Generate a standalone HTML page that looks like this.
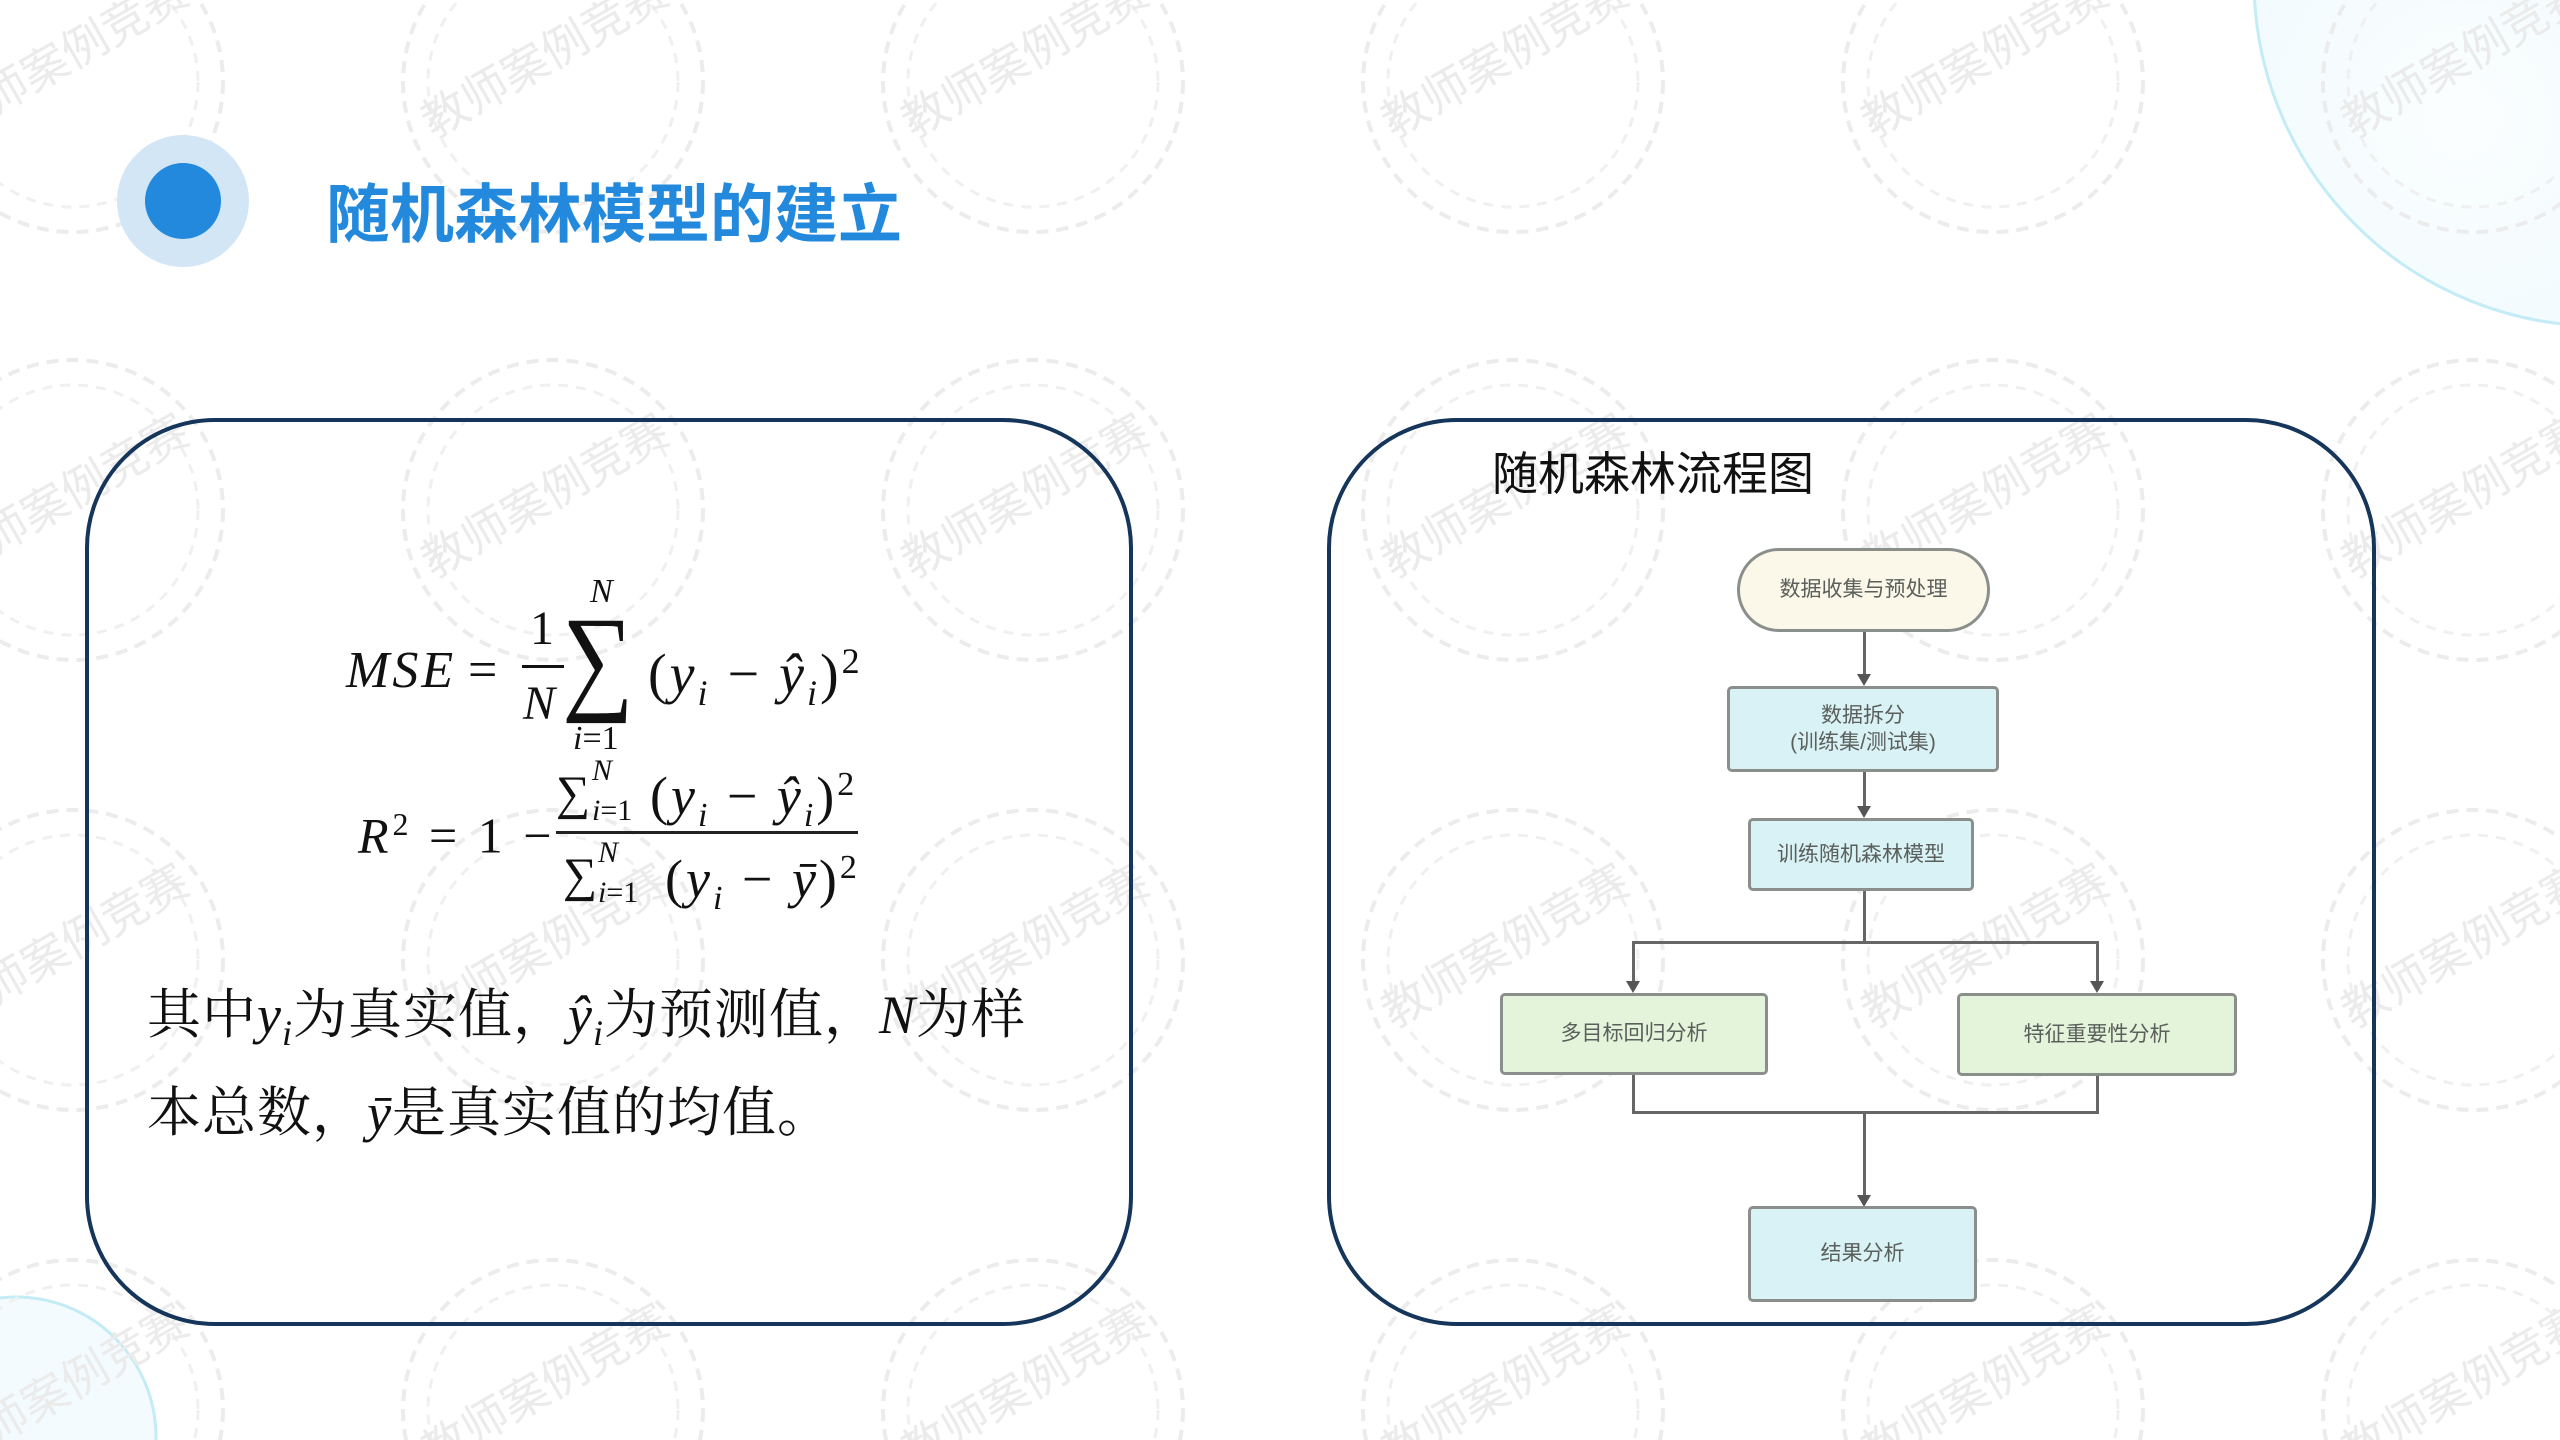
<!DOCTYPE html>
<html><head><meta charset="utf-8"><style>
*{margin:0;padding:0;box-sizing:border-box}
html,body{width:2560px;height:1440px;overflow:hidden}
body{background:#fff;position:relative;font-family:"Liberation Sans","Noto Sans CJK SC",sans-serif}
svg{display:block}
.a{position:absolute}
.m{font-family:"Liberation Serif","DejaVu Serif",serif;color:#111;position:absolute;white-space:nowrap;line-height:1}
.i{font-style:italic}
.panel{position:absolute;border:4px solid #15355a;border-radius:130px;background:transparent}
.node{position:absolute;border:3px solid #8a8f8c;border-radius:5px;display:flex;align-items:center;justify-content:center;text-align:center;font-size:21px;color:#5a5f5c;line-height:1.3;font-family:"Liberation Sans","Noto Sans CJK SC",sans-serif}
.ln{position:absolute;background:#666}
.ar{position:absolute;width:0;height:0;border-left:7px solid transparent;border-right:7px solid transparent;border-top:12px solid #555}
.t{font-family:"Liberation Serif","Noto Serif CJK SC",serif;font-size:54px;letter-spacing:1px;color:#111;position:absolute;white-space:nowrap;line-height:1}
.w{letter-spacing:3px}
</style></head><body>
<svg class="a" style="left:0;top:0" width="2560" height="1440">
<defs>
<radialGradient id="g" cx="0.3" cy="0.7" r="0.8"><stop offset="0" stop-color="#fbfeff"/><stop offset="1" stop-color="#e6f6fb"/></radialGradient>
</defs>
<circle cx="2600" cy="-20" r="346" fill="url(#g)" stroke="#c4ecf6" stroke-width="3"/>
<circle cx="16" cy="1437" r="140" fill="#f3fbfe" stroke="#c4ecf6" stroke-width="3"/>
<g fill="none" stroke="#ececec" stroke-width="4" stroke-dasharray="12 8">
<circle cx="73" cy="82" r="150"/><circle cx="553" cy="82" r="150"/><circle cx="1033" cy="82" r="150"/><circle cx="1513" cy="82" r="150"/><circle cx="1993" cy="82" r="150"/><circle cx="2473" cy="82" r="150"/>
<circle cx="73" cy="510" r="150"/><circle cx="553" cy="510" r="150"/><circle cx="1033" cy="510" r="150"/><circle cx="1513" cy="510" r="150"/><circle cx="1993" cy="510" r="150"/><circle cx="2473" cy="510" r="150"/>
<circle cx="73" cy="960" r="150"/><circle cx="553" cy="960" r="150"/><circle cx="1033" cy="960" r="150"/><circle cx="1513" cy="960" r="150"/><circle cx="1993" cy="960" r="150"/><circle cx="2473" cy="960" r="150"/>
<circle cx="73" cy="1410" r="150"/><circle cx="553" cy="1410" r="150"/><circle cx="1033" cy="1410" r="150"/><circle cx="1513" cy="1410" r="150"/><circle cx="1993" cy="1410" r="150"/><circle cx="2473" cy="1410" r="150"/>
</g>
<g fill="none" stroke="#f0f0f0" stroke-width="3" stroke-dasharray="10 8">
<circle cx="73" cy="82" r="125"/><circle cx="553" cy="82" r="125"/><circle cx="1033" cy="82" r="125"/><circle cx="1513" cy="82" r="125"/><circle cx="1993" cy="82" r="125"/><circle cx="2473" cy="82" r="125"/>
<circle cx="73" cy="510" r="125"/><circle cx="553" cy="510" r="125"/><circle cx="1033" cy="510" r="125"/><circle cx="1513" cy="510" r="125"/><circle cx="1993" cy="510" r="125"/><circle cx="2473" cy="510" r="125"/>
<circle cx="73" cy="960" r="125"/><circle cx="553" cy="960" r="125"/><circle cx="1033" cy="960" r="125"/><circle cx="1513" cy="960" r="125"/><circle cx="1993" cy="960" r="125"/><circle cx="2473" cy="960" r="125"/>
<circle cx="73" cy="1410" r="125"/><circle cx="553" cy="1410" r="125"/><circle cx="1033" cy="1410" r="125"/><circle cx="1513" cy="1410" r="125"/><circle cx="1993" cy="1410" r="125"/><circle cx="2473" cy="1410" r="125"/>
</g>
<g fill="#ebebeb" font-size="46" font-family="Noto Sans CJK SC,sans-serif" text-anchor="middle">
<text transform="translate(73,70) rotate(-30)">教师案例竞赛</text><text transform="translate(553,70) rotate(-30)">教师案例竞赛</text><text transform="translate(1033,70) rotate(-30)">教师案例竞赛</text><text transform="translate(1513,70) rotate(-30)">教师案例竞赛</text><text transform="translate(1993,70) rotate(-30)">教师案例竞赛</text><text transform="translate(2473,70) rotate(-30)">教师案例竞赛</text>
<text transform="translate(73,510) rotate(-30)">教师案例竞赛</text><text transform="translate(553,510) rotate(-30)">教师案例竞赛</text><text transform="translate(1033,510) rotate(-30)">教师案例竞赛</text><text transform="translate(1513,510) rotate(-30)">教师案例竞赛</text><text transform="translate(1993,510) rotate(-30)">教师案例竞赛</text><text transform="translate(2473,510) rotate(-30)">教师案例竞赛</text>
<text transform="translate(73,960) rotate(-30)">教师案例竞赛</text><text transform="translate(553,960) rotate(-30)">教师案例竞赛</text><text transform="translate(1033,960) rotate(-30)">教师案例竞赛</text><text transform="translate(1513,960) rotate(-30)">教师案例竞赛</text><text transform="translate(1993,960) rotate(-30)">教师案例竞赛</text><text transform="translate(2473,960) rotate(-30)">教师案例竞赛</text>
<text transform="translate(73,1400) rotate(-30)">教师案例竞赛</text><text transform="translate(553,1400) rotate(-30)">教师案例竞赛</text><text transform="translate(1033,1400) rotate(-30)">教师案例竞赛</text><text transform="translate(1513,1400) rotate(-30)">教师案例竞赛</text><text transform="translate(1993,1400) rotate(-30)">教师案例竞赛</text><text transform="translate(2473,1400) rotate(-30)">教师案例竞赛</text>
</g>
<circle cx="183" cy="201" r="66" fill="#d3e6f6"/>
<circle cx="183" cy="201" r="38" fill="#2289dc"/>
</svg>
<div class="a" style="left:326px;top:170px;font-size:64px;font-weight:bold;color:#2389dc;font-family:'Noto Sans CJK SC',sans-serif;line-height:80px;white-space:nowrap">随机森林模型的建立</div>

<div class="panel" style="left:85px;top:418px;width:1048px;height:908px"></div>
<div class="panel" style="left:1327px;top:418px;width:1049px;height:908px"></div>

<!-- MSE -->
<div class="m i" style="left:346px;top:645px;font-size:52px;letter-spacing:3px">MSE</div>
<div class="m" style="left:468px;top:645px;font-size:52px">=</div>
<div class="m" style="left:530px;top:605px;font-size:48px">1</div>
<div class="a" style="left:522px;top:665px;width:42px;height:3px;background:#111"></div>
<div class="m i" style="left:523px;top:680px;font-size:48px">N</div>
<div class="m" style="left:562px;top:600px;font-size:118px;transform:scaleX(0.85);transform-origin:left">∑</div>
<div class="m i" style="left:590px;top:575px;font-size:34px">N</div>
<div class="m" style="left:573px;top:722px;font-size:34px"><span class="i">i</span>=1</div>
<div class="m w" style="left:648px;top:643px;font-size:56px">(<span class="i">y</span><sub class="i" style="font-size:36px">i</sub> − <span class="i">ŷ</span><sub class="i" style="font-size:36px">i</sub>)<sup style="font-size:36px">2</sup></div>
<!-- R2 -->
<div class="m" style="left:358px;top:808px;font-size:50px;letter-spacing:4px"><span class="i">R</span><sup style="font-size:32px">2</sup> = 1 −</div>
<div class="a" style="left:556px;top:831px;width:302px;height:3px;background:#222"></div>
<div class="m" style="left:556px;top:770px;font-size:48px">∑</div>
<div class="m i" style="left:592px;top:756px;font-size:30px">N</div>
<div class="m" style="left:592px;top:796px;font-size:30px"><span class="i">i</span>=1</div>
<div class="m w" style="left:650px;top:768px;font-size:54px">(<span class="i">y</span><sub class="i" style="font-size:34px">i</sub> − <span class="i">ŷ</span><sub class="i" style="font-size:34px">i</sub>)<sup style="font-size:34px">2</sup></div>
<div class="m" style="left:563px;top:852px;font-size:48px">∑</div>
<div class="m i" style="left:598px;top:838px;font-size:30px">N</div>
<div class="m" style="left:598px;top:878px;font-size:30px"><span class="i">i</span>=1</div>
<div class="m w" style="left:665px;top:851px;font-size:54px">(<span class="i">y</span><sub class="i" style="font-size:34px">i</sub> − <span class="i">ȳ</span>)<sup style="font-size:34px">2</sup></div>

<div class="t" style="left:147px;top:988px">其中<span class="i">y</span><sub class="i" style="font-size:36px">i</sub>为真实值，<span class="i">ŷ</span><sub class="i" style="font-size:36px">i</sub>为预测值，<span class="i">N</span>为样</div>
<div class="t" style="left:147px;top:1086px">本总数，<span class="i">ȳ</span>是真实值的均值。</div>

<div class="a" style="left:1492px;top:448px;font-size:46px;color:#111;font-family:'Noto Sans CJK SC',sans-serif;line-height:1;white-space:nowrap">随机森林流程图</div>

<!-- flowchart -->
<div class="node" style="left:1737px;top:548px;width:253px;height:84px;border-radius:42px;background:#fbf8e9">数据收集与预处理</div>
<div class="ln" style="left:1863px;top:632px;width:3px;height:44px"></div><div class="ar" style="left:1857px;top:674px"></div>
<div class="node" style="left:1727px;top:686px;width:272px;height:86px;background:#d9f2f5">数据拆分<br>(训练集/测试集)</div>
<div class="ln" style="left:1863px;top:772px;width:3px;height:36px"></div><div class="ar" style="left:1857px;top:806px"></div>
<div class="node" style="left:1748px;top:818px;width:226px;height:73px;background:#d9f2f5">训练随机森林模型</div>
<div class="ln" style="left:1863px;top:891px;width:3px;height:52px"></div>
<div class="ln" style="left:1632px;top:941px;width:467px;height:3px"></div>
<div class="ln" style="left:1632px;top:941px;width:3px;height:42px"></div><div class="ar" style="left:1626px;top:981px"></div>
<div class="ln" style="left:2096px;top:941px;width:3px;height:42px"></div><div class="ar" style="left:2090px;top:981px"></div>
<div class="node" style="left:1500px;top:993px;width:268px;height:82px;background:#e3f4da">多目标回归分析</div>
<div class="node" style="left:1957px;top:993px;width:280px;height:83px;background:#e3f4da">特征重要性分析</div>
<div class="ln" style="left:1632px;top:1075px;width:3px;height:38px"></div>
<div class="ln" style="left:2096px;top:1076px;width:3px;height:37px"></div>
<div class="ln" style="left:1632px;top:1111px;width:467px;height:3px"></div>
<div class="ln" style="left:1863px;top:1111px;width:3px;height:86px"></div><div class="ar" style="left:1857px;top:1195px"></div>
<div class="node" style="left:1748px;top:1206px;width:229px;height:96px;background:#d9f2f5">结果分析</div>
</body></html>
